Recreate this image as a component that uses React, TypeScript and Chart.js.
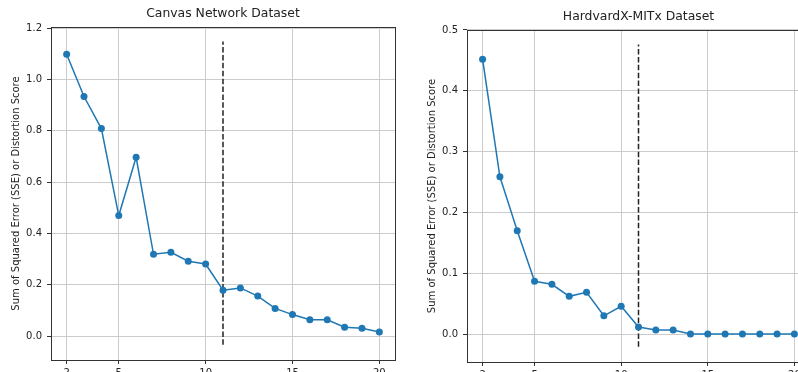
import React, { useEffect, useRef } from "react";
import { Chart, registerables } from "chart.js";

Chart.register(...registerables);

const kValues = [2, 3, 4, 5, 6, 7, 8, 9, 10, 11, 12, 13, 14, 15, 16, 17, 18, 19, 20];
const canvasSSE = [1.099, 0.934, 0.809, 0.47, 0.697, 0.319, 0.327, 0.292, 0.281, 0.179, 0.188, 0.156, 0.108, 0.084, 0.064, 0.064, 0.035, 0.031, 0.016];
const harvardSSE = [0.452, 0.2585, 0.17, 0.0867, 0.0818, 0.062, 0.0686, 0.03, 0.0456, 0.0115, 0.0066, 0.0066, 0, 0, 0, 0, 0, 0, 0];
const xTicks = [2, 5, 10, 15, 20];
const canvasYTicks = [0, 0.2, 0.4, 0.6, 0.8, 1.0, 1.2];
const harvardYTicks = [0, 0.1, 0.2, 0.3, 0.4, 0.5];
const elbowK = 11;
const canvasElbowSpan = [-0.034, 1.148];
const harvardElbowSpan = [-0.021, 0.476];
const titles = ["Canvas Network Dataset", "HardvardX-MITx Dataset"];
const yTitle = "Sum of Squared Error (SSE) or Distortion Score";

const FONT = "DejaVu Sans";

const framePlugin = {
  id: "frame",
  afterDraw(chart: any) {
    const { ctx, chartArea: a } = chart;
    ctx.save();
    ctx.strokeStyle = "#333";
    ctx.lineWidth = 1;
    ctx.strokeRect(Math.round(a.left) + 0.5, Math.round(a.top) + 0.5, Math.round(a.right - a.left), Math.round(a.bottom - a.top));
    ctx.restore();
  },
};

type Props = {
  title: string;
  values: number[];
  yTicks: number[];
  yMin: number;
  yMax: number;
  elbowSpan: number[];
  yAxisWidth: number;
  yTitlePad: number;
  width: number;
  height: number;
  left: number;
  top: number;
};

function ElbowChart(p: Props) {
  const ref = useRef<HTMLCanvasElement | null>(null);
  useEffect(() => {
    if (!ref.current) return;
    const chart = new Chart(ref.current, {
      type: "line",
      data: {
        datasets: [
          {
            data: kValues.map((k, i) => ({ x: k, y: p.values[i] })),
            borderColor: "#1f77b4",
            backgroundColor: "#1f77b4",
            borderWidth: 1.5,
            pointRadius: 3.5,
            pointBorderWidth: 0,
            pointBackgroundColor: "#1f77b4",
            tension: 0,
            clip: false as any,
          },
          {
            data: [
              { x: elbowK, y: p.elbowSpan[0] },
              { x: elbowK, y: p.elbowSpan[1] },
            ],
            borderColor: "#222",
            borderWidth: 1.5,
            borderDash: [5.5, 2.4],
            pointRadius: 0,
          },
        ],
      },
      options: {
        animation: false,
        responsive: false,
        layout: { padding: 0 },
        plugins: {
          legend: { display: false },
          tooltip: { enabled: false },
          title: {
            display: true,
            fullSize: false,
            text: p.title,
            color: "#222",
            font: { family: FONT, size: 12.4, weight: "normal" as any },
            padding: { top: 6, bottom: 6.1 },
          },
        },
        scales: {
          x: {
            type: "linear",
            min: 1.1,
            max: 20.9,
            afterBuildTicks: (s: any) => {
              s.ticks = xTicks.map((v) => ({ value: v }));
            },
            afterFit: (s: any) => {
              s.height = 30;
            },
            ticks: {
              color: "#222",
              font: { family: FONT, size: 10 },
              padding: 3,
              maxRotation: 0,
              autoSkip: false,
              callback: (v: any) => String(v),
            },
            grid: {
              color: "#cccccc",
              lineWidth: 1,
              tickColor: "#333",
              tickLength: 4,
            },
            border: { display: false },
          },
          y: {
            type: "linear",
            min: p.yMin,
            max: p.yMax,
            afterBuildTicks: (s: any) => {
              s.ticks = p.yTicks.map((v) => ({ value: v }));
            },
            afterFit: (s: any) => {
              s.width = p.yAxisWidth;
            },
            ticks: {
              color: "#222",
              font: { family: FONT, size: 10 },
              padding: 5,
              autoSkip: false,
              callback: (v: any) => Number(v).toFixed(1),
            },
            grid: {
              color: "#cccccc",
              lineWidth: 1,
              tickColor: "#333",
              tickLength: 4,
            },
            border: { display: false },
            title: {
              display: true,
              text: yTitle,
              color: "#222",
              font: { family: FONT, size: 10 },
              padding: { top: p.yTitlePad, bottom: 0 },
            },
          },
        },
      },
      plugins: [framePlugin],
    } as any);
    return () => chart.destroy();
  }, []);
  return (
    <canvas
      ref={ref}
      width={p.width}
      height={p.height}
      style={{ position: "absolute", left: p.left, top: p.top, width: p.width, height: p.height }}
    />
  );
}

export default function App() {
  return (
    <div
      style={{
        position: "fixed",
        left: 0,
        top: 0,
        width: 798,
        height: 372,
        overflow: "hidden",
        background: "#fff",
      }}
    >
      <ElbowChart
        title={titles[0]}
        values={canvasSSE}
        yTicks={canvasYTicks}
        yMin={-0.093}
        yMax={1.205}
        elbowSpan={canvasElbowSpan}
        yAxisWidth={51}
        yTitlePad={10}
        width={399}
        height={390}
        left={0}
        top={0}
      />
      <ElbowChart
        title={titles[1]}
        values={harvardSSE}
        yTicks={harvardYTicks}
        yMin={-0.046}
        yMax={0.5}
        elbowSpan={harvardElbowSpan}
        yAxisWidth={67}
        yTitlePad={26}
        width={414}
        height={389}
        left={400}
        top={3}
      />
    </div>
  );
}
